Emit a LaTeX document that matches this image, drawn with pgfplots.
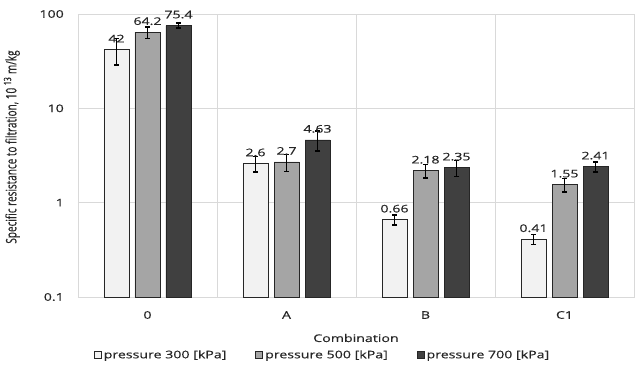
\documentclass[border=0pt]{standalone}
\usepackage{fontspec}
\setmainfont{Open Sans}[FakeStretch=1.35, FakeBold=0.4]
\newfontfamily\ylfont{Open Sans}[FakeBold=0.4]
\usepackage{pgfplots}
\pgfplotsset{compat=1.18}
\usepackage{pgfplotstable}
\definecolor{cA}{HTML}{F2F2F2}
\definecolor{cB}{HTML}{A5A5A5}
\definecolor{cC}{HTML}{404040}
\definecolor{gridc}{HTML}{D9D9D9}
\definecolor{txt}{HTML}{262626}
\definecolor{barc}{HTML}{262626}
\pgfplotstableread{
x y err lab
0 42 13 42
1 2.6 0.5 2.6
2 0.66 0.08 0.66
3 0.41 0.05 0.41
}\tA
\pgfplotstableread{
x y err lab
0 64.2 9 64.2
1 2.7 0.55 2.7
2 2.18 0.35 2.18
3 1.55 0.25 1.55
}\tB
\pgfplotstableread{
x y err lab
0 75.4 4.5 75.4
1 4.63 1.1 4.63
2 2.35 0.45 2.35
3 2.41 0.3 2.41
}\tC
\begin{document}
\begin{tikzpicture}
\path[use as bounding box] (-78bp,-68bp) rectangle (559bp,297bp);
\begin{axis}[
  at={(0,0)}, anchor=south west,
  scale only axis, width=556bp, height=283bp,
  ymode=log, ymin=0.1, ymax=100, log origin y=infty,
  xmin=-0.5, xmax=3.5,
  xtick={0,1,2,3}, xticklabels={0,A,B,C1},
  minor xtick={0.5,1.5,2.5},
  ytick={0.1,1,10,100}, yticklabels={0.1,1,10,100},
  yminorticks=false,
  ymajorgrids, xminorgrids, xmajorgrids=false,
  grid style={gridc, line width=0.75bp},
  minor grid style={gridc, line width=0.75bp},
  axis line style={gridc, line width=0.75bp},
  major tick length=0pt, minor tick length=0pt,
  tick style={draw=none},
  /pgf/number format/assume math mode=true,
  ticklabel style={font=\fontsize{10.5bp}{12bp}\selectfont, text=txt},
  xticklabel style={anchor=center, yshift=-18bp},
  yticklabel style={anchor=east, inner sep=0pt, xshift=-14bp},
  ybar=6bp, bar width=25bp,
  point meta=explicit symbolic,
  nodes near coords,
  every node near coord/.append style={font=\fontsize{10.5bp}{12bp}\selectfont, text=txt, anchor=center, yshift=11bp},
  xlabel={Combination},
  xlabel style={font=\fontsize{10.5bp}{12bp}\selectfont, text=txt, at={(axis description cs:0.5,-0.145)}, anchor=center},
  ylabel={\scalebox{1}[1.45]{Specific resistance to filtration, 10 \textsuperscript{13} m/kg}},
  ylabel style={font=\ylfont\fontsize{10bp}{11bp}\selectfont, text=txt, at={(axis description cs:-0.119,0.53)}, anchor=center},
  legend columns=3,
  legend style={at={(axis description cs:0.44,-0.205)}, anchor=center, draw=none, fill=none,
    font=\fontsize{10.5bp}{12bp}\selectfont, text=txt,
    /tikz/every even column/.append style={column sep=27bp}},
  legend image code/.code={\draw[#1, line width=0.75bp] (0bp,-3.5bp) rectangle (7bp,3.5bp);},
  error bars/error bar style={black, line width=1.8bp},
  error bars/error mark options={black, line width=1.6bp, mark size=2.5bp, rotate=90},
]
\addplot[fill=cA, draw=barc, line width=0.75bp, error bars/.cd, y dir=both, y explicit]
  table[x=x, y=y, y error=err, meta=lab] {\tA};
\addlegendentry{pressure 300 [kPa]}
\addplot[fill=cB, draw=barc, line width=0.75bp, error bars/.cd, y dir=both, y explicit]
  table[x=x, y=y, y error=err, meta=lab] {\tB};
\addlegendentry{pressure 500 [kPa]}
\addplot[fill=cC, draw=barc, line width=0.75bp, error bars/.cd, y dir=both, y explicit]
  table[x=x, y=y, y error=err, meta=lab] {\tC};
\addlegendentry{pressure 700 [kPa]}
\end{axis}
\end{tikzpicture}
\end{document}
